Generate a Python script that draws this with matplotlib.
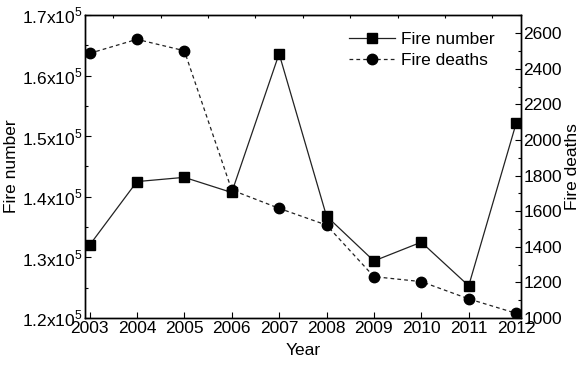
import numpy as np
import matplotlib
matplotlib.use('Agg')
from matplotlib import pyplot as plt
from matplotlib.ticker import MultipleLocator, FixedLocator

plt.rcParams['font.family'] = ['Liberation Sans', 'DejaVu Sans']
plt.rcParams['mathtext.fontset'] = 'custom'
plt.rcParams['mathtext.rm'] = 'Liberation Sans'

years = [2003, 2004, 2005, 2006, 2007, 2008, 2009, 2010, 2011, 2012]
fire_number = [132000, 142500, 143200, 140700, 163600, 136800, 129400, 132500, 125300, 152100]
fire_deaths = [2487, 2566, 2502, 1719, 1616, 1522, 1232, 1204, 1107, 1026]
left_ticks = [120000, 130000, 140000, 150000, 160000, 170000]
left_labels = [r'1.2x10$^{5}$', r'1.3x10$^{5}$', r'1.4x10$^{5}$',
               r'1.5x10$^{5}$', r'1.6x10$^{5}$', r'1.7x10$^{5}$']

fig = plt.figure(figsize=(5.8, 3.65), dpi=100)
ax = fig.add_axes([0.147, 0.129, 0.751, 0.830])
ax2 = ax.twinx()

l1, = ax.plot(years, fire_number, '-', color='#222222', lw=0.9,
              marker='s', ms=6.5, mfc='black', mec='black', label='Fire number')
l2, = ax2.plot(years, fire_deaths, '--', color='#222222', lw=0.9, dashes=(3, 2.5),
               marker='o', ms=7.5, mfc='black', mec='black', label='Fire deaths')

ax.set_xlim(2002.91, 2012.1)
ax.set_ylim(120000, 170000)
ax2.set_ylim(1000, 2703)

ax.set_xticks(years)
ax.set_xticklabels([str(y) for y in years])
ax.xaxis.set_minor_locator(FixedLocator([y + 0.5 for y in years[:-1]]))
ax.set_yticks(left_ticks)
ax.set_yticklabels(left_labels)
ax.yaxis.set_minor_locator(MultipleLocator(5000))
ax2.yaxis.set_major_locator(MultipleLocator(200))
ax2.yaxis.set_minor_locator(MultipleLocator(100))

ax.tick_params(axis='both', which='major', direction='in', length=4, width=0.8, labelsize=12.5, pad=2)
ax.tick_params(axis='y', which='minor', direction='in', length=2.5, width=0.8)
ax.tick_params(axis='x', which='minor', direction='in', length=2.5, width=0.8,
               bottom=False, top=True)
ax2.tick_params(axis='y', which='major', direction='in', length=4, width=0.8, labelsize=12.5, pad=2)
ax2.tick_params(axis='y', which='minor', direction='in', length=2.5, width=0.8)

for a in (ax, ax2):
    for s in a.spines.values():
        s.set_linewidth(1.0)

ax.set_xlabel('Year', fontsize=12.5, labelpad=5)
ax.set_ylabel('Fire number', fontsize=12.5, labelpad=2)
ax2.set_ylabel('Fire deaths', fontsize=12.5, labelpad=2)

ax.legend([l1, l2], ['Fire number', 'Fire deaths'], loc='upper right',
          bbox_to_anchor=(0.975, 0.995), frameon=False, fontsize=12.5,
          handlelength=2.7, handletextpad=0.3, labelspacing=0.35)

fig.savefig('out.png', dpi=100)
